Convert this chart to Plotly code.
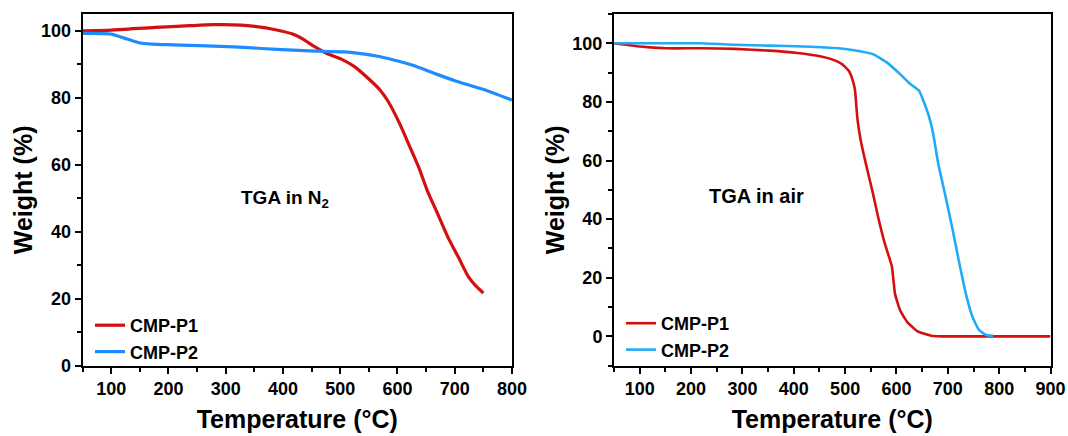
import plotly.graph_objects as go

# ---- Data: TGA in N2 ----
n2_p1_temp = [50, 100, 177, 237, 279, 327, 351, 387, 417, 435, 453, 477, 501, 525, 550, 568, 583, 604, 622, 637, 652, 670, 688, 706, 724, 736, 750]
n2_p1_weight = [100.0, 100.2, 101.0, 101.5, 101.8, 101.7, 101.3, 100.3, 99.0, 97.5, 95.5, 93.2, 91.6, 89.3, 85.6, 82.6, 79.1, 72.2, 65.2, 59.3, 52.3, 45.4, 38.4, 32.5, 26.5, 24.0, 21.7]
n2_p2_temp = [50, 100, 123, 147, 171, 207, 267, 315, 363, 417, 477, 507, 543, 568, 604, 628, 664, 700, 748, 800]
n2_p2_weight = [99.2, 99.0, 97.8, 96.5, 96.0, 95.8, 95.5, 95.2, 94.7, 94.2, 93.8, 93.7, 93.0, 92.3, 90.8, 89.6, 87.3, 85.1, 82.6, 79.3]

# ---- Data: TGA in air ----
air_p1_temp = [50, 100, 152, 219, 286, 353, 407, 453, 473, 494, 507, 514, 519, 524, 530, 540, 554, 564, 577, 591, 597, 607, 621, 641, 668, 688, 900]
air_p1_weight = [100.0, 98.9, 98.3, 98.3, 98.1, 97.5, 96.7, 95.5, 94.6, 92.9, 90.6, 87.8, 84.3, 74.1, 67.2, 59.2, 48.9, 40.9, 31.8, 23.9, 14.6, 8.9, 4.9, 1.7, 0.2, 0.0, 0.0]
air_p2_temp = [50, 100, 219, 286, 353, 420, 487, 514, 554, 581, 607, 627, 644, 661, 671, 681, 694, 708, 721, 735, 748, 761, 775, 788]
air_p2_weight = [100.0, 100.0, 100.0, 99.5, 99.2, 98.9, 98.3, 97.7, 96.3, 93.5, 89.5, 86.1, 83.8, 76.3, 69.5, 59.2, 48.9, 37.5, 26.1, 14.6, 6.6, 2.1, 0.5, 0.2]

series_names = ["CMP-P1", "CMP-P2"]
x_ticks_left = [100, 200, 300, 400, 500, 600, 700, 800]
x_ticks_right = [100, 200, 300, 400, 500, 600, 700, 800, 900]
y_ticks = [0, 20, 40, 60, 80, 100]

RED = "#D40F0F"
BLUE_L = "#1E8CFF"
BLUE_R = "#22AAF8"
FONT = "Arial, Liberation Sans, sans-serif"

fig = go.Figure()
fig.add_trace(go.Scatter(x=n2_p1_temp, y=n2_p1_weight, mode="lines", name=series_names[0],
                         line=dict(color=RED, width=3.2, shape="spline", smoothing=0.6),
                         xaxis="x", yaxis="y", legend="legend"))
fig.add_trace(go.Scatter(x=n2_p2_temp, y=n2_p2_weight, mode="lines", name=series_names[1],
                         line=dict(color=BLUE_L, width=3.2, shape="spline", smoothing=0.6),
                         xaxis="x", yaxis="y", legend="legend"))
fig.add_trace(go.Scatter(x=air_p1_temp, y=air_p1_weight, mode="lines", name=series_names[0],
                         line=dict(color=RED, width=2.6, shape="spline", smoothing=0.4),
                         xaxis="x2", yaxis="y2", legend="legend2"))
fig.add_trace(go.Scatter(x=air_p2_temp, y=air_p2_weight, mode="lines", name=series_names[1],
                         line=dict(color=BLUE_R, width=2.6, shape="spline", smoothing=0.4),
                         xaxis="x2", yaxis="y2", legend="legend2"))

tickfont = dict(family=FONT, size=18, color="black", weight="bold")
titlefont = dict(family=FONT, size=25, color="black", weight="bold")

def xaxis(domain, rng, ticks, anchor):
    return dict(domain=domain, range=rng, anchor=anchor, tickvals=ticks,
                showline=True, linewidth=2, linecolor="black", mirror=True,
                ticks="outside", ticklen=6, tickwidth=2, tickcolor="black",
                minor=dict(dtick=50, tick0=50, ticks="outside", ticklen=4, tickwidth=2, tickcolor="black"),
                showgrid=False, zeroline=False, tickfont=tickfont,
                title=dict(text="Temperature (°C)", font=titlefont, standoff=12),
                automargin=False)

def yaxis(domain, rng, anchor):
    return dict(domain=domain, range=rng, anchor=anchor, tickvals=y_ticks,
                showline=True, linewidth=2, linecolor="black", mirror=True,
                ticks="outside", ticklen=6, tickwidth=2, tickcolor="black",
                minor=dict(dtick=10, tick0=0, ticks="outside", ticklen=4, tickwidth=2, tickcolor="black"),
                showgrid=False, zeroline=False, tickfont=tickfont,
                title=dict(text="Weight (%)", font=titlefont, standoff=1),
                automargin=False)

ydom = [0.1612, 0.9679]
fig.update_layout(
    width=1068, height=436,
    margin=dict(l=0, r=0, t=0, b=0),
    paper_bgcolor="white", plot_bgcolor="white",
    xaxis=xaxis([0.0773, 0.4794], [50, 800], x_ticks_left, "y"),
    yaxis=yaxis(ydom, [0, 105], "x"),
    xaxis2=xaxis([0.5749, 0.9837], [50, 900], x_ticks_right, "y2"),
    yaxis2=yaxis(ydom, [-10, 110], "x2"),
    legend=dict(x=90 / 1068, y=1 - 307 / 436, xanchor="left", yanchor="top",
                bgcolor="rgba(0,0,0,0)", borderwidth=0, tracegroupgap=0,
                font=dict(family=FONT, size=18, color="black", weight="bold")),
    legend2=dict(x=621 / 1068, y=1 - 305 / 436, xanchor="left", yanchor="top",
                 bgcolor="rgba(0,0,0,0)", borderwidth=0, tracegroupgap=0,
                 font=dict(family=FONT, size=18, color="black", weight="bold")),
    annotations=[
        dict(text="TGA in N<sub>2</sub>", x=285 / 1068, y=1 - 199 / 436, xref="paper", yref="paper",
             showarrow=False, xanchor="center", yanchor="middle",
             font=dict(family=FONT, size=19, color="black", weight="bold")),
        dict(text="TGA in air", x=756 / 1068, y=1 - 196 / 436, xref="paper", yref="paper",
             showarrow=False, xanchor="center", yanchor="middle",
             font=dict(family=FONT, size=20, color="black", weight="bold")),
    ],
)

fig.write_html("out.html")
